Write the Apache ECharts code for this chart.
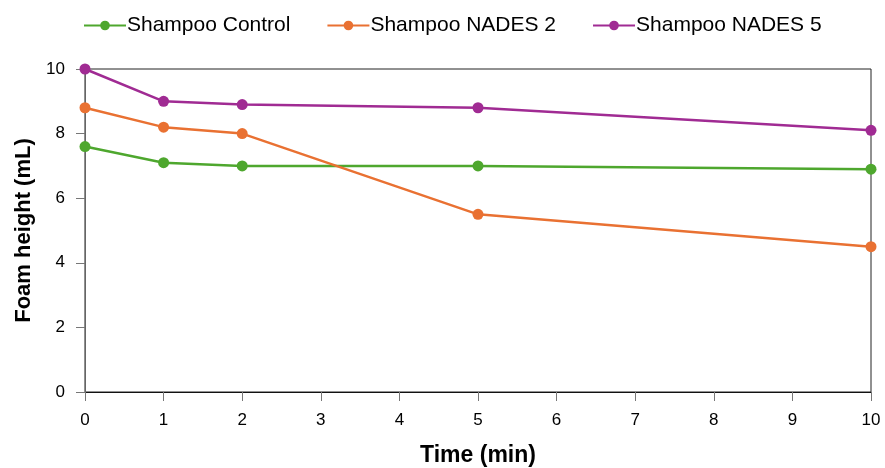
<!DOCTYPE html>
<html lang="en">
<head>
    <meta charset="UTF-8">
    <title>Foam height</title>
    <script src="https://cdn.jsdelivr.net/npm/echarts@6/dist/echarts.min.js"></script>
</head>
<body style="margin:0">
<div id="main" style="width:885px;height:468px;"></div>
<script type="text/javascript">
    // time points (min)
    var times = [0, 1, 2, 5, 10];
    // foam height (mL)
    var control = [7.6, 7.1, 7.0, 7.0, 6.9];
    var nades2 = [8.8, 8.2, 8.0, 5.5, 4.5];
    var nades5 = [10, 9.0, 8.9, 8.8, 8.1];
    var seriesNames = ['Shampoo Control', 'Shampoo NADES 2', 'Shampoo NADES 5'];
    var colors = ['#4EA72E', '#E97132', '#A02B93'];

    function pairs(vals) {
        var out = [];
        for (var i = 0; i < times.length; i++) {
            out.push([times[i], vals[i]]);
        }
        return out;
    }

    var myChart = echarts.init(document.getElementById('main'));
    var allVals = [control, nades2, nades5];
    var series = [];
    for (var s = 0; s < allVals.length; s++) {
        series.push({
            name: seriesNames[s],
            type: 'line',
            data: pairs(allVals[s]),
            symbol: 'circle',
            symbolSize: 11,
            color: colors[s],
            lineStyle: {width: 2.5},
            z: 3 + s
        });
    }

    var option = {
        textStyle: {fontFamily: 'Liberation Sans'},
        legend: {
            top: 10,
            left: 78,
            itemWidth: 42,
            itemHeight: 12,
            itemGap: 36,
            textStyle: {fontSize: 21, color: '#000', padding: [0, 0, 0, -4]},
            data: seriesNames
        },
        grid: {
            left: 85, right: 14, top: 69, bottom: 76,
            outerBoundsMode: 'none',
            containLabel: false,
            show: true, borderColor: '#222', borderWidth: 1
        },
        xAxis: {
            type: 'value',
            min: 0, max: 10, interval: 1,
            name: 'Time (min)',
            nameLocation: 'middle',
            nameGap: 52,
            nameTextStyle: {fontSize: 23, fontWeight: 'bold', color: '#000'},
            axisLine: {lineStyle: {color: '#111'}},
            axisTick: {show: true, length: 9, lineStyle: {color: '#777'}},
            axisLabel: {fontSize: 17, color: '#000', margin: 20},
            splitLine: {show: false}
        },
        yAxis: {
            type: 'value',
            min: 0, max: 10, interval: 2,
            name: 'Foam height (mL)',
            nameLocation: 'middle',
            nameGap: 49,
            nameTextStyle: {fontSize: 22, fontWeight: 'bold', color: '#000'},
            axisLine: {show: true, lineStyle: {color: '#666'}},
            axisTick: {show: true, length: 9, lineStyle: {color: '#777'}},
            axisLabel: {fontSize: 17, color: '#000', margin: 20},
            splitLine: {show: false}
        },
        series: series
    };

    myChart.setOption(option);
</script>
</body>
</html>
